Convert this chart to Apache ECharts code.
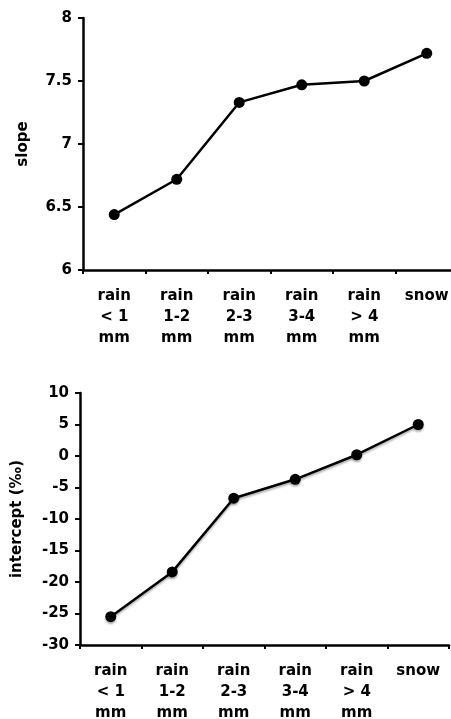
<!DOCTYPE html>
<html><head><meta charset="utf-8">
<script src="https://cdn.jsdelivr.net/npm/echarts@6/dist/echarts.min.js"></script>
<style>html,body{margin:0;padding:0;background:#fff}#c{width:451px;height:719px}</style>
</head><body><div id="c"></div>
<script>
var categories = ['rain\n< 1\nmm', 'rain\n1-2\nmm', 'rain\n2-3\nmm', 'rain\n3-4\nmm', 'rain\n> 4\nmm', 'snow'];
var slopeValues = [6.44, 6.72, 7.33, 7.47, 7.50, 7.72];
var interceptValues = [-25.5, -18.4, -6.7, -3.7, 0.2, 5.0];
var slopeTicks = {min: 6, max: 8, interval: 0.5};
var interceptTicks = {min: -30, max: 10, interval: 5};

var font = '"DejaVu Sans", Verdana, sans-serif';
function xAxis(gi) {
  return {
    type: 'category', gridIndex: gi, data: categories, boundaryGap: true,
    axisLine: {onZero: false, lineStyle: {color: '#000', width: 2.5}},
    axisTick: {show: true, length: 4, lineStyle: {color: '#000', width: 2}},
    axisLabel: {color: '#000', fontFamily: font, fontWeight: 'bold', fontSize: 15, lineHeight: 21, margin: 16, interval: 0}
  };
}
function yAxis(gi, t, name, gap) {
  return {
    type: 'value', gridIndex: gi, min: t.min, max: t.max, interval: t.interval,
    name: name, nameLocation: 'middle', nameGap: gap, nameRotate: 90,
    nameTextStyle: {color: '#000', fontFamily: font, fontWeight: 'bold', fontSize: 15},
    splitLine: {show: false},
    axisLine: {show: true, onZero: false, lineStyle: {color: '#000', width: 2.5}},
    axisTick: {show: true, length: 5, lineStyle: {color: '#000', width: 2}},
    axisLabel: {color: '#000', fontFamily: font, fontWeight: 'bold', fontSize: 15, margin: 11}
  };
}
var chart = echarts.init(document.getElementById('c'));
chart.setOption({
  animation: false,
  grid: [
    {left: 83, top: 18, width: 375, height: 252, containLabel: false, outerBoundsMode: 'none'},
    {left: 80, top: 393, width: 369, height: 252, containLabel: false, outerBoundsMode: 'none'}
  ],
  xAxis: [xAxis(0), xAxis(1)],
  yAxis: [yAxis(0, slopeTicks, 'slope', 52), yAxis(1, interceptTicks, 'intercept (‰)', 55)],
  series: [
    {type: 'line', xAxisIndex: 0, yAxisIndex: 0, data: slopeValues, symbol: 'circle', symbolSize: 11,
     lineStyle: {color: '#000', width: 2.5}, itemStyle: {color: '#000'}},
    {type: 'line', xAxisIndex: 1, yAxisIndex: 1, data: interceptValues, symbol: 'circle', symbolSize: 11,
     lineStyle: {color: '#000', width: 2.5, shadowColor: 'rgba(0,0,0,0.3)', shadowOffsetY: 2, shadowBlur: 2},
     itemStyle: {color: '#000', shadowColor: 'rgba(0,0,0,0.3)', shadowOffsetY: 2, shadowBlur: 2}}
  ]
});
</script></body></html>
